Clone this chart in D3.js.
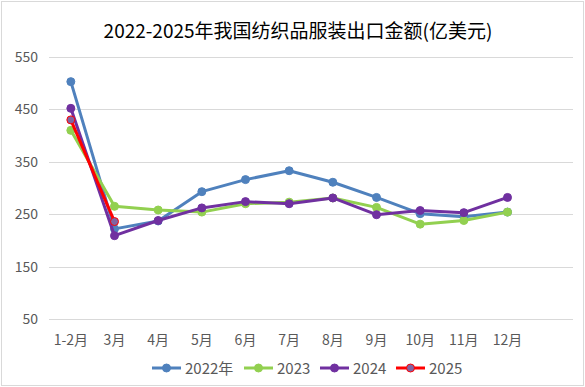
<!DOCTYPE html>
<html>
<head>
<meta charset="utf-8">
<script src="https://cdn.jsdelivr.net/npm/d3@7"></script>
<style>
  body { margin: 0; background: #fff; }
  svg { display: block; font-family: "Noto Sans CJK SC", "Noto Sans", sans-serif; }
</style>
</head>
<body>
<div id="chart"></div>
<script>
const MONTHS = ["1-2月", "3月", "4月", "5月", "6月", "7月", "8月", "9月", "10月", "11月", "12月"];
const Y_TICKS = [50, 150, 250, 350, 450, 550];

const V2022 = [503, 222, 237, 293, 316, 333, 311, 282, 251, 245, 254];
const V2023 = [410, 265, 258, 254, 270, 273, 281, 263, 231, 238, 254];
const V2024 = [452, 209, 238, 262, 274, 270, 281, 249, 257, 253, 282];
const V2025 = [430, 236];

const SERIES = [
  {name: "2022年", values: V2022, color: "#4F81BD", marker: "#4F81BD"},
  {name: "2023", values: V2023, color: "#92D050", marker: "#92D050"},
  {name: "2024", values: V2024, color: "#7030A0", marker: "#7030A0"},
  {name: "2025", values: V2025, color: "#FF0000", marker: "#8064A2"}
];

const W = 585, H = 387;
const plotLeft = 49, plotRight = 573, plotTop = 57, plotBottom = 319;

const svg = d3.select("#chart").append("svg")
  .attr("width", W)
  .attr("height", H);

// outer border
svg.append("rect")
  .attr("x", 1.5).attr("y", 1.5)
  .attr("width", W - 3).attr("height", H - 3)
  .attr("fill", "#fff")
  .attr("stroke", "#d9d9d9")
  .attr("stroke-width", 1);

// 12 bands, the last one left empty like the original
const step = (plotRight - plotLeft) / 12;
let x = d3.scaleBand().domain(MONTHS)
  .range([plotLeft, plotRight - step]);

let y = d3.scaleLinear().domain([50, 550]).range([plotBottom, plotTop]);

// grid lines
svg.append("g")
  .selectAll("line")
  .data(Y_TICKS)
  .enter()
  .append("line")
  .attr("x1", plotLeft).attr("x2", plotRight)
  .attr("y1", d => Math.round(y(d)) + 0.5)
  .attr("y2", d => Math.round(y(d)) + 0.5)
  .attr("stroke", "#d9d9d9")
  .attr("stroke-width", 1);

// y labels
svg.append("g")
  .selectAll("text")
  .data(Y_TICKS)
  .enter()
  .append("text")
  .attr("x", 38)
  .attr("y", d => y(d) + 5)
  .attr("text-anchor", "end")
  .attr("fill", "#595959")
  .attr("font-size", "14px")
  .text(d => d);

// x labels
svg.append("g")
  .selectAll("text")
  .data(MONTHS)
  .enter()
  .append("text")
  .attr("x", d => x(d) + x.bandwidth() / 2)
  .attr("y", 345)
  .attr("text-anchor", "middle")
  .attr("fill", "#595959")
  .attr("font-size", "14px")
  .text(d => d);

const cx = (d, i) => x(MONTHS[i]) + x.bandwidth() / 2;

let line = d3.line()
  .x((d, i) => cx(d, i))
  .y(d => y(d));

SERIES.forEach(s => {
  let g = svg.append("g");
  g.append("path")
    .datum(s.values)
    .attr("d", line)
    .attr("fill", "none")
    .attr("stroke", s.color)
    .attr("stroke-width", 3)
    .attr("stroke-linejoin", "round");
  g.selectAll("circle")
    .data(s.values)
    .enter()
    .append("circle")
    .attr("cx", cx)
    .attr("cy", d => y(d))
    .attr("r", 4)
    .attr("fill", s.marker)
    .attr("stroke", s.color)
    .attr("stroke-width", 1);
});

// legend
const legendX = [152, 244, 320, 396];
let legend = svg.append("g")
  .selectAll("g")
  .data(SERIES)
  .enter()
  .append("g")
  .attr("transform", (d, i) => `translate(${legendX[i]},368)`);

legend.append("line")
  .attr("x1", 0).attr("x2", 29)
  .attr("y1", 0).attr("y2", 0)
  .attr("stroke", d => d.color)
  .attr("stroke-width", 3);
legend.append("circle")
  .attr("cx", 14.5).attr("cy", 0).attr("r", 4)
  .attr("fill", d => d.marker)
  .attr("stroke", d => d.color);
legend.append("text")
  .attr("x", 33)
  .attr("y", 5.5)
  .attr("fill", "#595959")
  .attr("font-size", "15px")
  .text(d => d.name);

// title
svg.append("text")
  .attr("x", 298)
  .attr("y", 38)
  .attr("text-anchor", "middle")
  .attr("fill", "#000")
  .attr("font-size", "19px")
  .text("2022-2025年我国纺织品服装出口金额(亿美元)");
</script>
</body>
</html>
